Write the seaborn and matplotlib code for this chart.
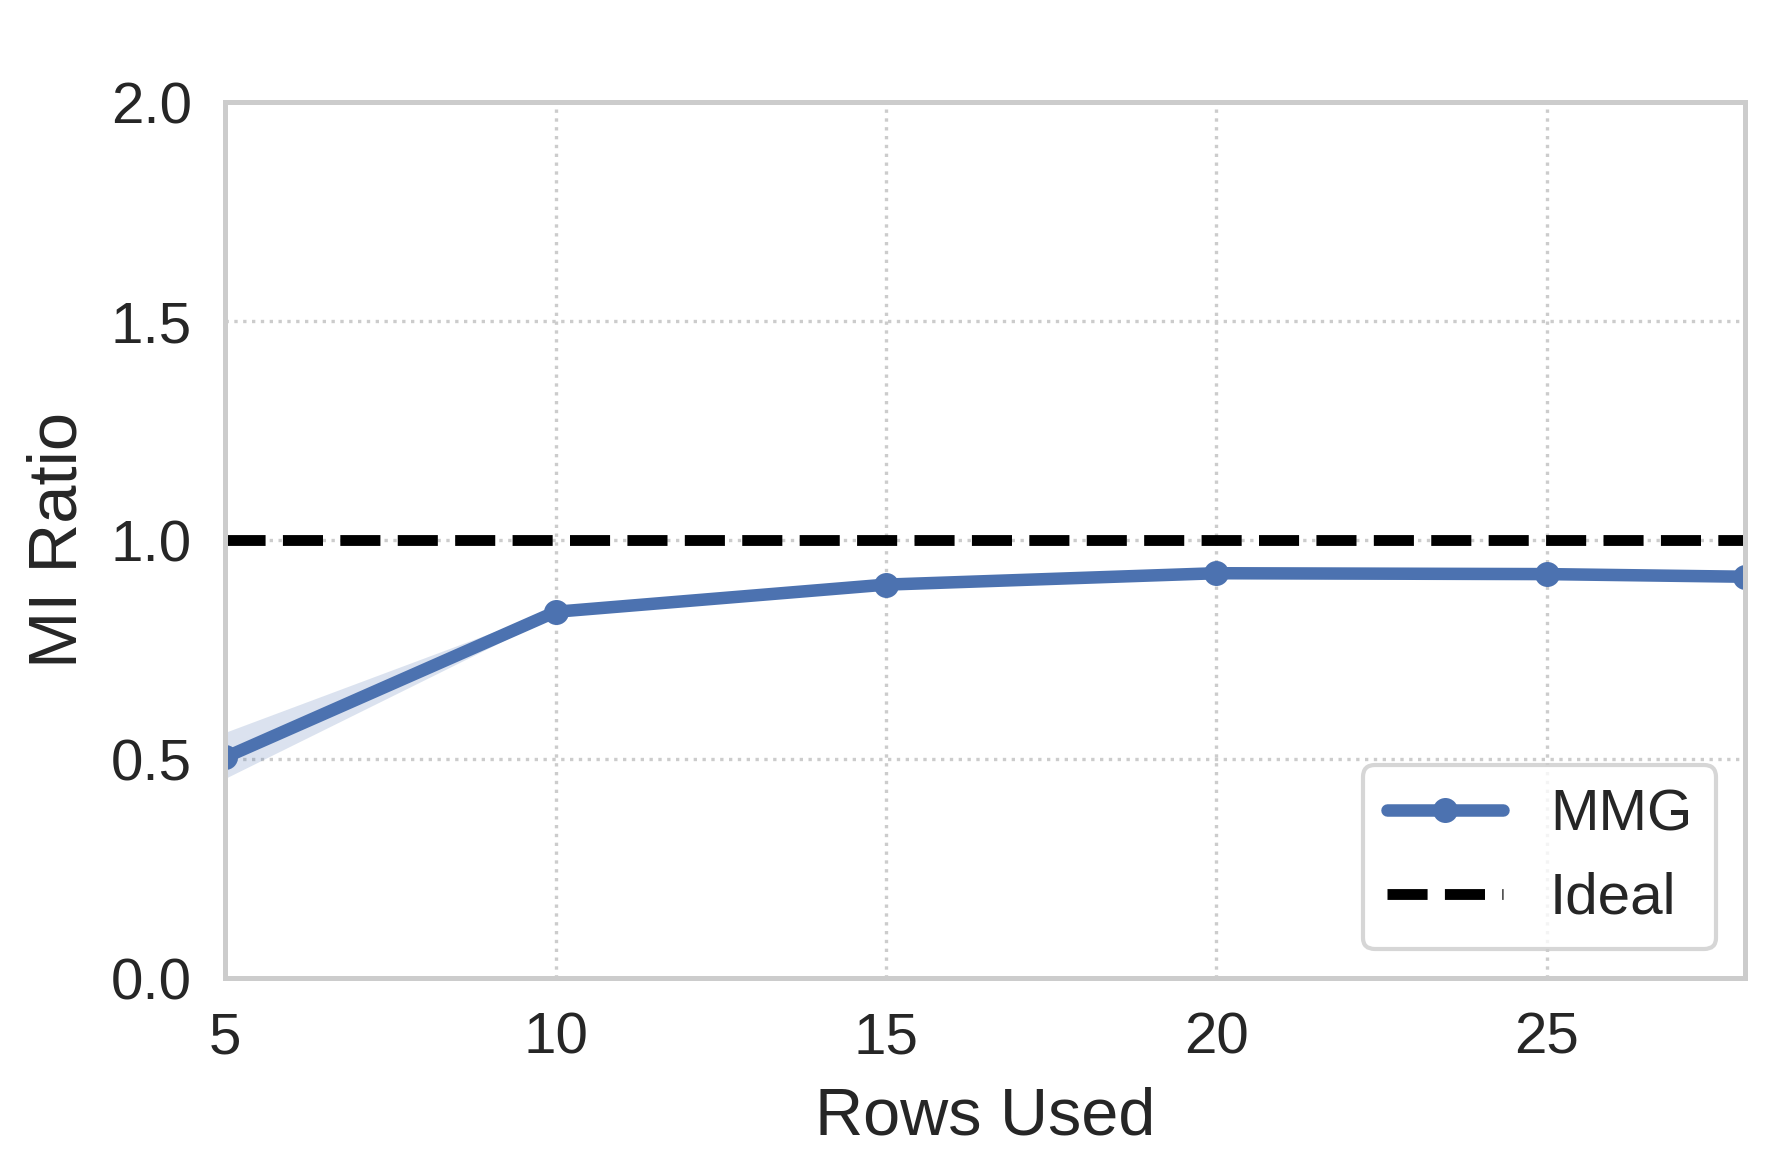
import matplotlib
matplotlib.use("Agg")
import matplotlib.pyplot as plt
import seaborn as sns
import pandas as pd

# rows used vs mutual information ratio
rows_used = [5, 10, 15, 20, 25, 28]
mi_ratio = [0.505, 0.837, 0.899, 0.925, 0.923, 0.917]
mi_low = [0.457, 0.830, 0.897, 0.923, 0.921, 0.915]
mi_high = [0.562, 0.844, 0.901, 0.927, 0.925, 0.919]
ideal = 1.0

x_ticks = [5, 10, 15, 20, 25]
y_ticks = [0.0, 0.5, 1.0, 1.5, 2.0]

sns.set_theme(style="whitegrid")
plt.rcParams['font.family'] = ['Liberation Sans', 'DejaVu Sans']

df = pd.DataFrame({"rows": rows_used, "mi": mi_ratio})
blue = sns.color_palette("deep")[0]

fig, ax = plt.subplots(figsize=(5.917, 3.92), dpi=300)
fig.subplots_adjust(left=0.127, right=0.983, top=0.913, bottom=0.168)

ax.fill_between(rows_used, mi_low, mi_high, color=blue, alpha=0.2, linewidth=0)
sns.lineplot(data=df, x="rows", y="mi", ax=ax, color=blue, linewidth=3,
             marker="o", markersize=6, markeredgewidth=0, label="MMG")
ax.axhline(ideal, color="black", linestyle="--", linewidth=2.6, label="Ideal")

ax.set_xlim(5, 28)
ax.set_ylim(0, 2)
ax.set_xticks(x_ticks)
ax.set_yticks(y_ticks)
ax.grid(True, linestyle=":", linewidth=0.8, color="#cccccc")
ax.tick_params(axis="both", labelsize=14, pad=2)
ax.set_xlabel("Rows Used", fontsize=16, labelpad=5)
ax.set_ylabel("MI Ratio", fontsize=16.5, labelpad=5)
for s in ax.spines.values():
    s.set_color("#cccccc")
    s.set_linewidth(1.2)

ax.legend(loc="lower right", fontsize=14, frameon=True, edgecolor="#cccccc")

fig.savefig("out.png", dpi=300)
plt.close(fig)
